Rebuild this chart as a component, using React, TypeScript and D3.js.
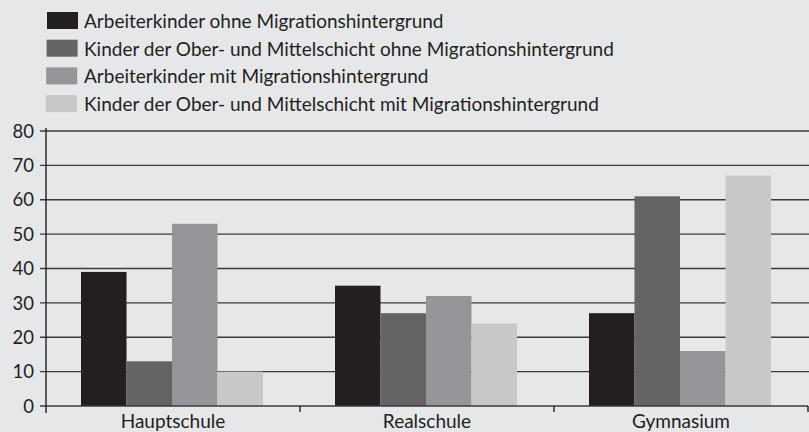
import React from "react";
import * as d3 from "d3";

const categories = ["Hauptschule", "Realschule", "Gymnasium"];
const seriesNames = [
  "Arbeiterkinder ohne Migrationshintergrund",
  "Kinder der Ober- und Mittelschicht ohne Migrationshintergrund",
  "Arbeiterkinder mit Migrationshintergrund",
  "Kinder der Ober- und Mittelschicht mit Migrationshintergrund",
];
const arbeiterOhne = [39, 35, 27];
const oberOhne = [13, 27, 61];
const arbeiterMit = [53, 32, 16];
const oberMit = [10, 24, 67];
const yTicks = [0, 10, 20, 30, 40, 50, 60, 70, 80];
const colors = ["#231f20", "#646466", "#949598", "#c7c8ca"];

const W = 809;
const H = 432;
const FONT = "Lato, 'Open Sans', sans-serif";

export default function App() {
  const series = [arbeiterOhne, oberOhne, arbeiterMit, oberMit];
  const left = 46;
  const right = 808;
  const y = d3.scaleLinear().domain([0, 80]).range([406, 131]);
  const x0 = d3.scaleBand<string>().domain(categories).range([left, right]).paddingInner(0).paddingOuter(0);
  const inner = d3
    .scaleBand<number>()
    .domain(d3.range(series.length))
    .range([35, x0.bandwidth() - 37])
    .padding(0);

  return (
    <svg
      width={W}
      height={H}
      style={{ position: "absolute", left: 0, top: 0, background: "#e6e7e8" }}
      fontFamily={FONT}
    >
      <rect x={0} y={0} width={W} height={H} fill="#e6e7e8" />
      {/* legend */}
      {seriesNames.map((name, i) => (
        <g key={name} transform={`translate(0, ${i * 27.7})`}>
          <rect x={47 - i * 0.4} y={12} width={31} height={17} fill={colors[i]} />
          <text x={84} y={28} fontSize={19} fill="#231f20">
            {name}
          </text>
        </g>
      ))}
      {/* gridlines */}
      {yTicks.map((t) => (
        <g key={t}>
          {t > 0 && (
            <line x1={40} x2={W} y1={y(t)} y2={y(t)} stroke="#3a3a3a" strokeWidth={1.4} />
          )}
          <text
            x={34}
            y={y(t)}
            dy="0.36em"
            textAnchor="end"
            fontSize={18.5}
            fill="#231f20"
          >
            {t}
          </text>
        </g>
      ))}
      {/* bars */}
      {categories.map((c, ci) => (
        <g key={c} transform={`translate(${x0(c)},0)`}>
          {series.map((s, si) => (
            <rect
              key={si}
              x={inner(si)}
              y={y(s[ci])}
              width={inner.bandwidth()}
              height={y(0) - y(s[ci])}
              fill={colors[si]}
            />
          ))}
        </g>
      ))}
      {/* axes */}
      <line x1={40} x2={right} y1={y(0)} y2={y(0)} stroke="#3a3a3a" strokeWidth={1.4} />
      <line x1={left} x2={left} y1={y(80) - 3} y2={413} stroke="#231f20" strokeWidth={1.4} />
      {categories.map((c) => (
        <line
          key={c}
          x1={(x0(c) as number) + x0.bandwidth()}
          x2={(x0(c) as number) + x0.bandwidth()}
          y1={y(0)}
          y2={412}
          stroke="#231f20"
          strokeWidth={1.4}
        />
      ))}
      {categories.map((c) => (
        <text
          key={c}
          x={(x0(c) as number) + x0.bandwidth() / 2}
          y={428}
          textAnchor="middle"
          fontSize={19}
          fill="#231f20"
        >
          {c}
        </text>
      ))}
    </svg>
  );
}
